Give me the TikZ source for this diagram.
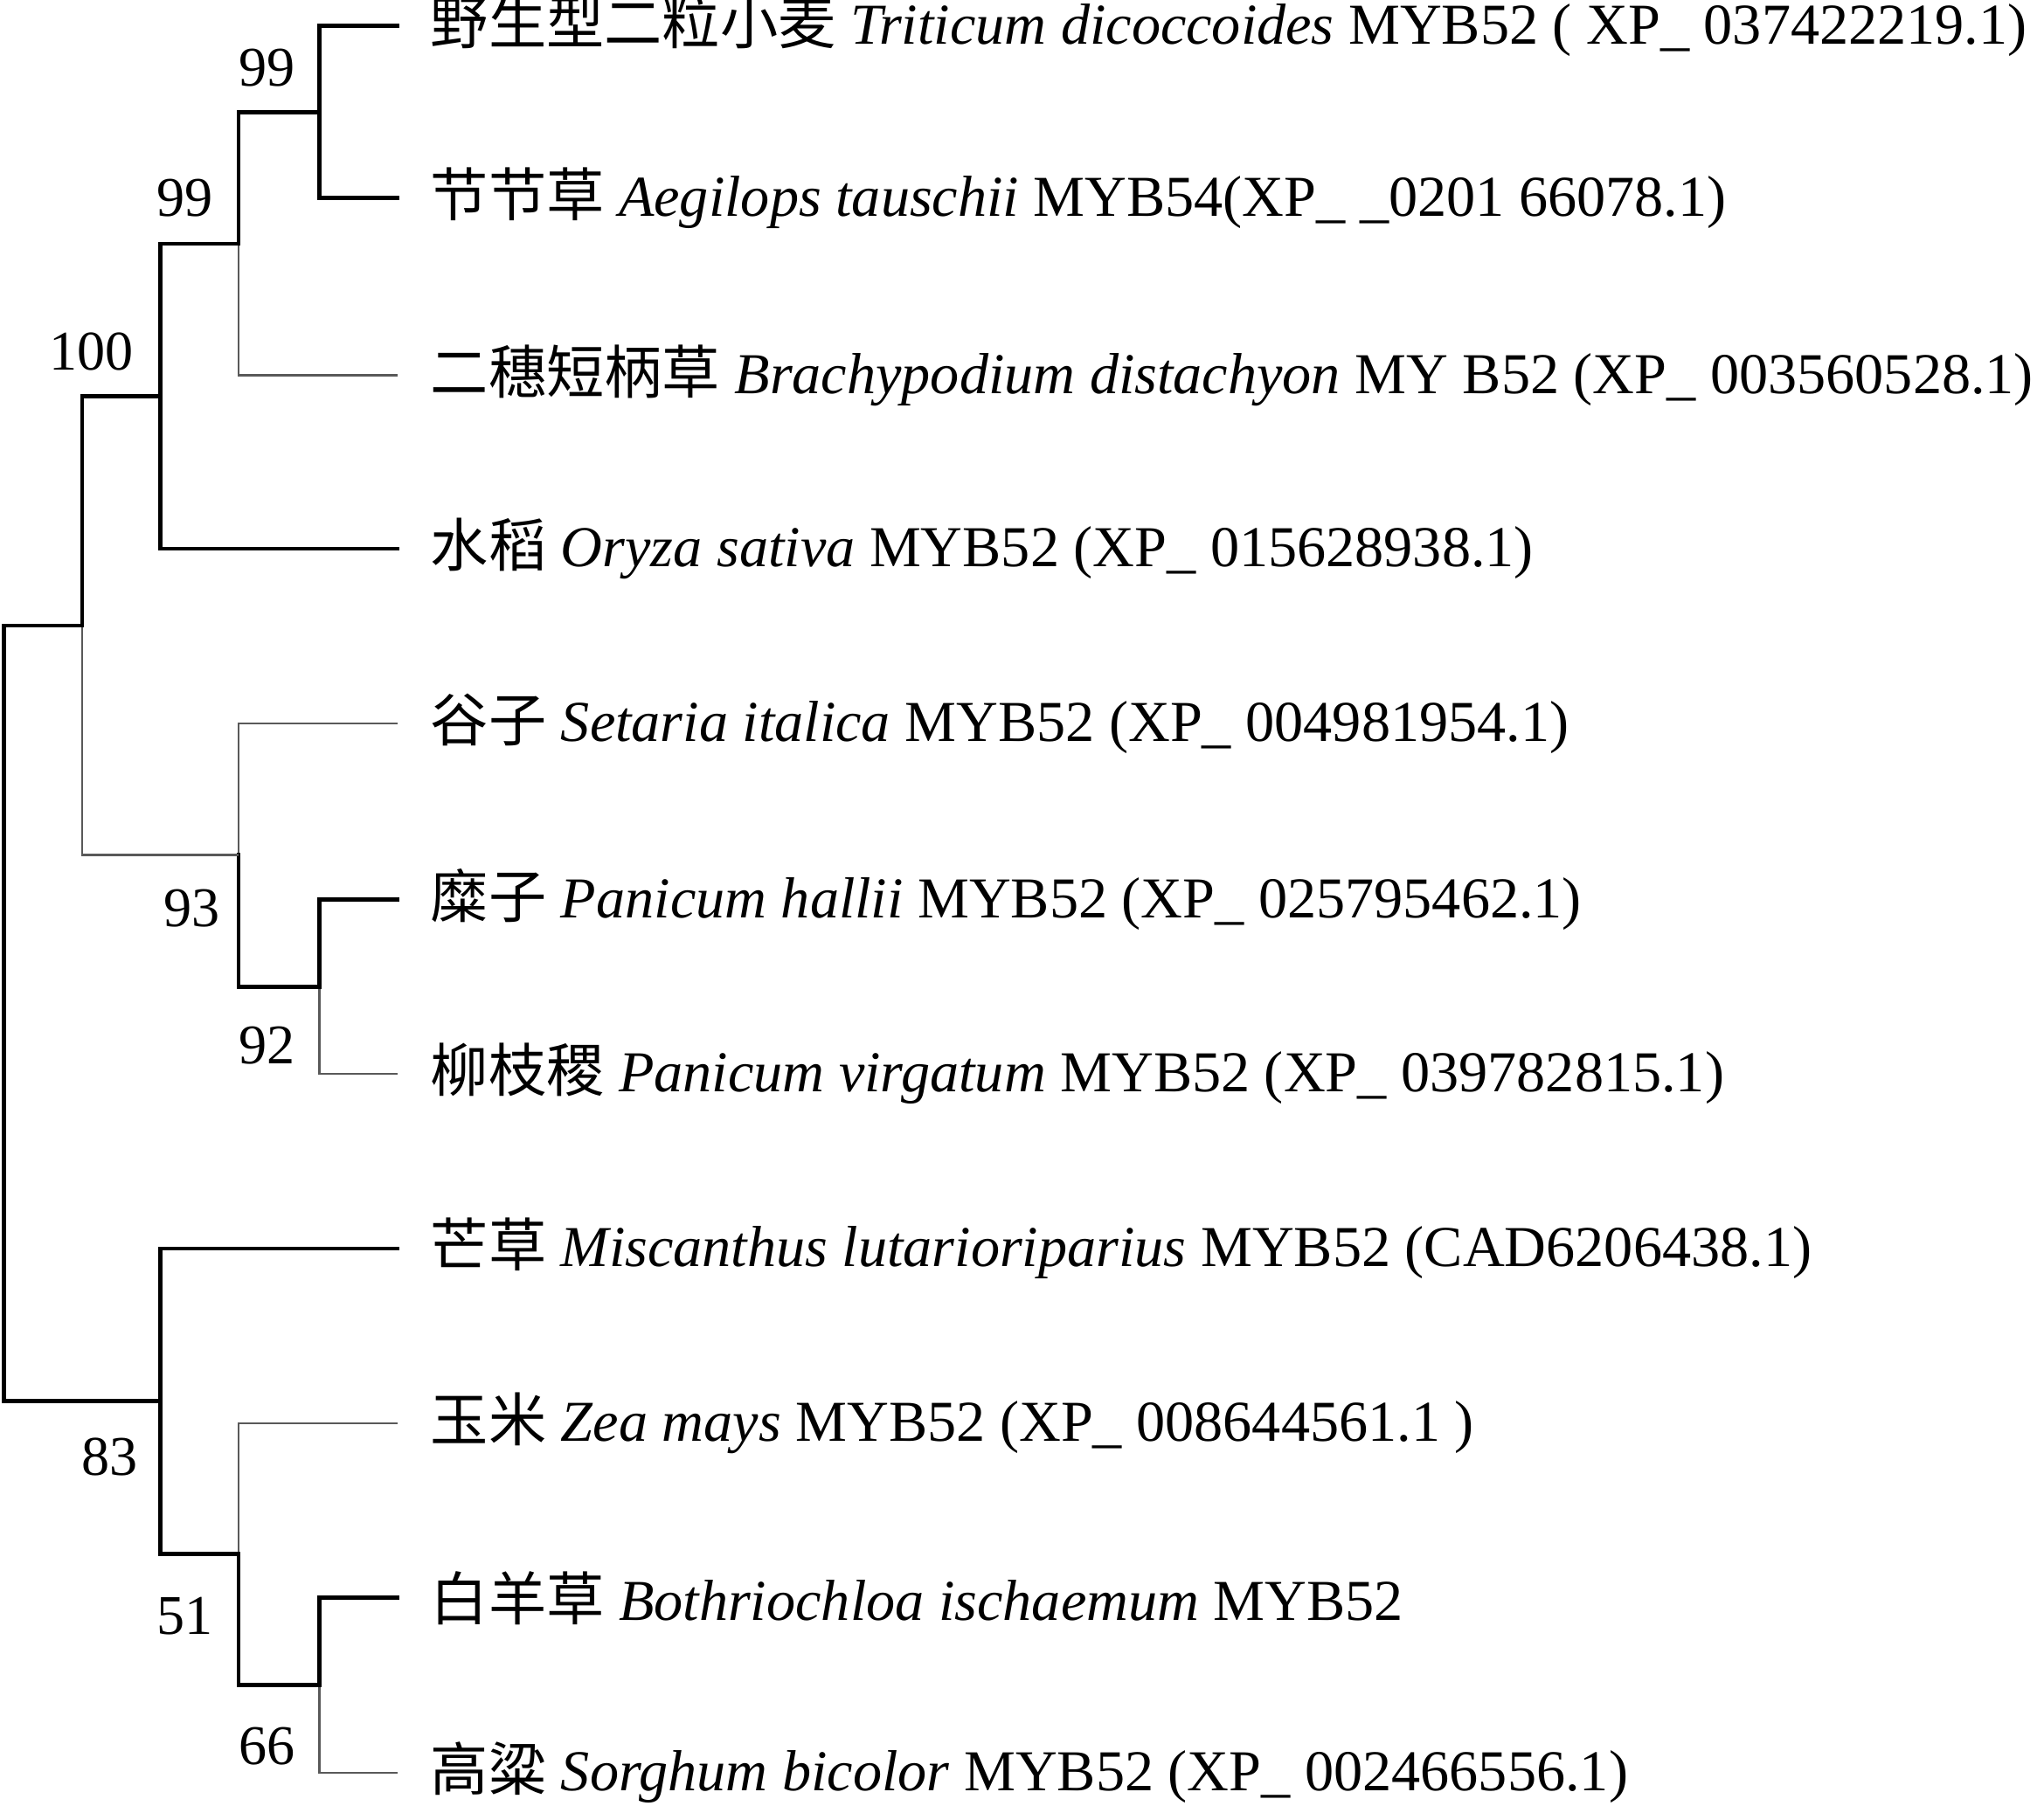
\documentclass[tikz,border=0pt]{standalone}
\usepackage{fontspec}
\setmainfont{Liberation Serif}
\newfontfamily\cjk{Noto Sans CJK SC}
\begin{document}
\begin{tikzpicture}[x=0.5pt,y=-0.5pt,
  br/.style={line width=1.6pt,line cap=rect},
  thin/.style={line width=0.8pt,gray!70!black},
  lab/.style={anchor=west,inner sep=0pt,font=\fontsize{22.2}{24}\selectfont},
  bs/.style={inner sep=0pt,font=\fontsize{21.5}{24}\selectfont}]
\useasboundingbox (0,0) rectangle (1568,1385);
% tips
\foreach \n/\y in {1/20,2/152,3/288,4/421,5/555,6/690,7/824,8/958,9/1092,10/1226,11/1360}
  \coordinate (t\n) at (305,\y);
\node[lab] (l1) at (330,20) {{\cjk 野生型二粒小麦} \textit{Triticum dicoccoides} MYB52 ( XP\_ 037422219.1)};
\node[lab] (l2) at (330,152) {{\cjk 节节草} \textit{Aegilops tauschii} MYB54(XP\_ \_0201 66078.1)};
\node[lab] (l3) at (330,288) {{\cjk 二穗短柄草} \textit{Brachypodium distachyon} MY B52 (XP\_ 003560528.1)};
\node[lab] (l4) at (330,421) {{\cjk 水稻} \textit{Oryza sativa} MYB52 (XP\_ 015628938.1)};
\node[lab] (l5) at (330,555) {{\cjk 谷子} \textit{Setaria italica} MYB52 (XP\_ 004981954.1)};
\node[lab] (l6) at (330,690) {{\cjk 糜子} \textit{Panicum hallii} MYB52 (XP\_ 025795462.1)};
\node[lab] (l7) at (330,824) {{\cjk 柳枝稷} \textit{Panicum virgatum} MYB52 (XP\_ 039782815.1)};
\node[lab] (l8) at (330,958) {{\cjk 芒草} \textit{Miscanthus lutarioriparius} MYB52 (CAD6206438.1)};
\node[lab] (l9) at (330,1092) {{\cjk 玉米} \textit{Zea mays} MYB52 (XP\_ 008644561.1 )};
\node[lab] (l10) at (330,1226) {{\cjk 白羊草} \textit{Bothriochloa ischaemum} MYB52};
\node[lab] (l11) at (330,1360) {{\cjk 高粱} \textit{Sorghum bicolor} MYB52 (XP\_ 002466556.1)};
% internal nodes
\coordinate (A) at (245,86);
\coordinate (B) at (183,187);
\coordinate (C) at (123,304);
\coordinate (D) at (245,757);
\coordinate (E) at (183,656);
\coordinate (F) at (63,480);
\coordinate (G) at (245,1293);
\coordinate (H) at (183,1192);
\coordinate (I) at (123,1075);
\coordinate (R) at (3,777);
\draw[br] (t1) -| (A) |- (t2);
\draw[br] (A) -| (B);
\draw[thin] (B) |- (t3);
\draw[br] (B) -| (C) |- (t4);
\draw[br] (t6) -| (D);
\draw[thin] (D) |- (t7);
\draw[thin] (t5) -| (E);
\draw[br] (E) |- (D);
\draw[br] (C) -| (F);
\draw[thin] (F) |- (E);
\draw[br] (t10) -| (G);
\draw[thin] (G) |- (t11);
\draw[thin] (t9) -| (H);
\draw[br] (H) |- (G);
\draw[br] (t8) -| (I) |- (H);
\draw[br] (F) -| (R) |- (I);
% bootstrap
\node[bs] (s1) at (205,52) {99};
\node[bs] (s2) at (142,152) {99};
\node[bs] (s3) at (70,270) {100};
\node[bs] (s4) at (147,697) {93};
\node[bs] (s5) at (205,802) {92};
\node[bs] (s6) at (84,1118) {83};
\node[bs] (s7) at (142,1240) {51};
\node[bs] (s8) at (205,1340) {66};
\end{tikzpicture}
\end{document}
